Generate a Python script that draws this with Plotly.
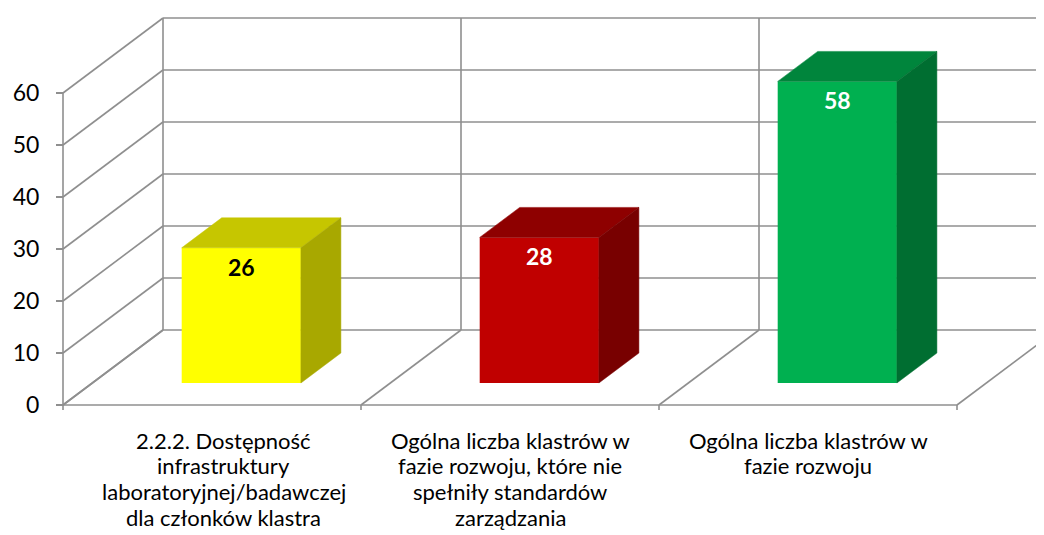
import plotly.graph_objects as go

# -------- DATA --------
categories = [
    "2.2.2. Dostępność<br>infrastruktury<br>laboratoryjnej/badawczej<br>dla członków klastra",
    "Ogólna liczba klastrów w<br>fazie rozwoju, które nie<br>spełniły standardów<br>zarządzania",
    "Ogólna liczba klastrów w<br>fazie rozwoju",
]
values = [26, 28, 58]
y_ticks = [0, 10, 20, 30, 40, 50, 60]

front_colors = ["#FFFF00", "#C00000", "#00B050"]
top_colors = ["#C6C600", "#8E0000", "#00853C"]
side_colors = ["#A8A800", "#780000", "#006E31"]
label_colors = ["black", "white", "white"]

# -------- FAKE 3D GEOMETRY --------
# page body has an 8px margin, so the figure starts at (8, 8) in the window
W, H = 1036, 527
ML, MT, MB = 53, 4, 125
PX_X = 298      # px per category
PX_Y = 5.2      # px per value unit
DX, DY = 100 / PX_X, 75 / PX_Y      # depth of floor / side wall
BX, BY = 29.3 / PX_X, 22 / PX_Y     # bars sit this far back
TX, TY = 40 / PX_X, 30 / PX_Y       # depth of a bar
BW = 0.4
GRID = "#8F8F8F"
FONT = "Lato"
LINE_H = 25.7   # line spacing of category labels

n = len(values)
x0 = -2 / PX_X
x1 = x0 + (W - ML) / PX_X
y0 = -5 / PX_Y
y1 = (H - MB - MT - 5) / PX_Y

fig = go.Figure()

# front faces
xc = [i + 0.5 + BX for i in range(n)]
fig.add_trace(go.Bar(x=xc, y=values, base=BY, width=BW,
                     marker=dict(color=front_colors, line=dict(width=0)),
                     hoverinfo="skip"))

# top and side faces
for i, v in enumerate(values):
    xa, xb = xc[i] - BW / 2, xc[i] + BW / 2
    top = BY + v
    fig.add_trace(go.Scatter(x=[xa, xb, xb + TX, xa + TX, xa],
                             y=[top, top, top + TY, top + TY, top],
                             fill="toself", fillcolor=top_colors[i], mode="lines",
                             line=dict(color=top_colors[i], width=0.5), hoverinfo="skip"))
    fig.add_trace(go.Scatter(x=[xb, xb + TX, xb + TX, xb, xb],
                             y=[BY, BY + TY, top + TY, top, BY],
                             fill="toself", fillcolor=side_colors[i], mode="lines",
                             line=dict(color=side_colors[i], width=0.5), hoverinfo="skip"))
    fig.add_annotation(x=xc[i], y=top, text="<b>%d</b>" % v, showarrow=False,
                       yshift=-19, font=dict(family=FONT, size=23, color=label_colors[i]))

# category labels, one annotation per line to get Excel-like line spacing
for i, cat in enumerate(categories):
    for j, line in enumerate(cat.split("<br>")):
        fig.add_annotation(x=i + 0.5 + (0.04 if i == 0 else 0), y=0, text=line,
                           showarrow=False, yanchor="middle", yshift=-35 - j * LINE_H,
                           font=dict(family=FONT, size=22, color="black"))

# walls and floor
shapes = []
def seg(xa, ya, xb, yb):
    shapes.append(dict(type="line", xref="x", yref="y", x0=xa, y0=ya, x1=xb, y1=yb,
                       line=dict(color=GRID, width=1.6), layer="below"))

for v in y_ticks:
    seg(0, v, DX, v + DY)
    seg(DX, v + DY, n + DX + 0.5, v + DY)
for k in range(n + 1):
    seg(k + DX, DY, k + DX, y_ticks[-1] + DY)
    seg(k, 0, k + DX, DY)
    seg(k, 0, k, y0)
seg(0, 0, n, 0)
seg(0, 0, 0, y_ticks[-1])

fig.update_layout(
    width=W, height=H,
    margin=dict(l=ML, r=0, t=MT, b=MB),
    paper_bgcolor="white", plot_bgcolor="white",
    showlegend=False,
    shapes=shapes,
    xaxis=dict(range=[x0, x1], showticklabels=False,
               showgrid=False, zeroline=False, showline=False, ticks="", automargin=False),
    yaxis=dict(range=[y0, y1], tickvals=y_ticks, anchor="free", position=2 / (W - ML),
               showgrid=False, zeroline=False, showline=False, automargin=False,
               ticks="outside", ticklen=7, tickwidth=1.6, tickcolor=GRID,
               tickfont=dict(family=FONT, size=23, color="black"), ticklabelstandoff=12),
)

fig.write_html("out.html")
